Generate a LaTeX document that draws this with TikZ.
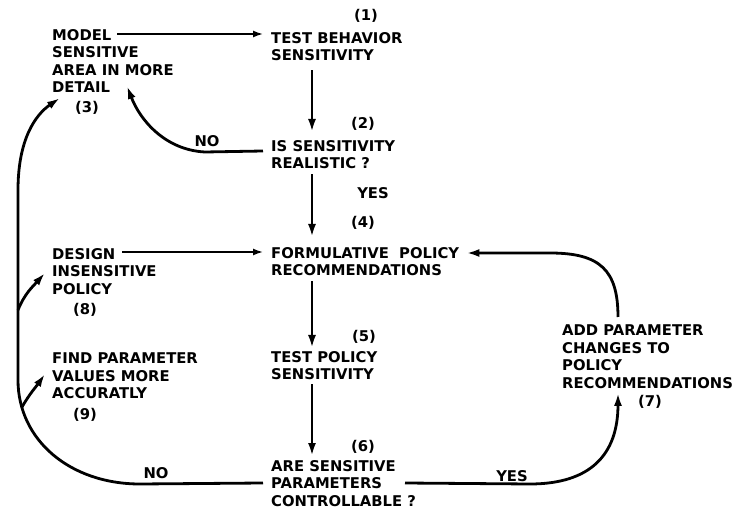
\documentclass[tikz,border=0pt]{standalone}
\usepackage{fontspec}
\setmainfont{DejaVu Sans}
\usetikzlibrary{arrows.meta,calc}

\begin{document}
\begin{tikzpicture}[x=1pt, y=1pt,
    txt/.style={anchor=north west, inner sep=0pt, align=left, font=\bfseries\fontsize{14.8}{17.5}\selectfont},
    num/.style={inner sep=0pt, font=\bfseries\fontsize{14.8}{17.5}\selectfont},
    flow/.style={line width=2.8pt, -{Latex[length=13pt,width=8pt]}},
    feed/.style={line width=1.6pt, -{Latex[length=10pt,width=7pt]}}
]
    \useasboundingbox (0,0) rectangle (745,-513);
    % steps
    \node[txt] (n1) at (271, -32) {TEST BEHAVIOR\\SENSITIVITY};
    \node[txt] (n2) at (271,-140) {IS SENSITIVITY\\REALISTIC ?};
    \node[txt] (n4) at (271,-247) {FORMULATIVE\ \ POLICY\\RECOMMENDATIONS};
    \node[txt] (n5) at (271,-351) {TEST POLICY\\SENSITIVITY};
    \node[txt] (n6) at (271,-460) {ARE SENSITIVE\\PARAMETERS\\CONTROLLABLE ?};
    \node[txt] (n3) at ( 52, -29) {MODEL\\SENSITIVE\\AREA IN MORE\\DETAIL};
    \node[txt] (n8) at ( 52,-248) {DESIGN\\INSENSITIVE\\POLICY};
    \node[txt] (n9) at ( 52,-353) {FIND PARAMETER\\VALUES MORE\\ACCURATLY};
    \node[txt] (n7) at (562,-325) {ADD PARAMETER\\CHANGES TO\\POLICY\\RECOMMENDATIONS};
    % step numbers
    \node[num] (k1) at (366, -16) {(1)};
    \node[num] (k2) at (363,-124) {(2)};
    \node[num] (k3) at ( 87,-108) {(3)};
    \node[num] (k4) at (363,-223) {(4)};
    \node[num] (k5) at (364,-337) {(5)};
    \node[num] (k6) at (363,-447) {(6)};
    \node[num] (k7) at (650,-402) {(7)};
    \node[num] (k8) at ( 85,-310) {(8)};
    \node[num] (k9) at ( 85,-415) {(9)};
    % answers
    \node[num] (yes2) at (373,-193) {YES};
    \node[num] (no2)  at (207,-141) {NO};
    \node[num] (no6)  at (156,-473) {NO};
    \node[num] (yes6) at (512,-476) {YES};
    % connector ends
    \coordinate (ax) at (312,0);
    \coordinate (m3) at (117,-34);
    \coordinate (m8) at (122,-252);
    \coordinate (m2) at ($(n2.north west)+(-8,-11)$);
    \coordinate (t3) at ($(n3.north west)+(75,-57)$);
    \coordinate (l3) at ($(n3.north west)+(8,-69)$);
    \coordinate (m6l) at ($(n6.north west)+(-8,-23)$);
    \coordinate (m6r) at ($(n6.north west)+(134,-23)$);
    \coordinate (b8) at (18,-310);
    \coordinate (b9) at (22,-407);
    \coordinate (t8) at ($(n8.north west)+(-7,-25)$);
    \coordinate (t9) at ($(n9.north west)+(-7,-21)$);
    \coordinate (s7) at ($(n7.north west)+(56,8)$);
    \coordinate (t7) at ($(n7.south west)+(56,-4)$);
    % main line
    \draw[flow] (ax |- n1.south) ++(0,-9) -- ([yshift=8]ax |- n2.north);
    \draw[flow] (ax |- n2.south) ++(0,-5) -- ([yshift=10]ax |- n4.north);
    \draw[flow] (ax |- n4.south) ++(0,-5) -- ([yshift=3]ax |- n5.north);
    \draw[flow] (ax |- n5.south) ++(0,-4) -- ([yshift=4]ax |- n6.north);
    \draw[feed] (m3) -- ([xshift=-8]m3 -| n1.west);
    \draw[feed] (m8) -- ([xshift=-8]m8 -| n4.west);
    % loops
    \draw[flow] (m2) -- (205,-152) .. controls (165,-150) and (140,-120) .. (t3);
    \draw[flow] (m6l) -- (140,-484) .. controls (70,-484) and (18,-440) .. (18,-380)
        -- (18,-190) .. controls (18,-140) and (35,-115) .. (l3);
    \draw[flow] (b8) to[out=68, in=228] (t8);
    \draw[flow] (b9) to[out=60, in=235] (t9);
    \draw[flow] (m6r) -- (530,-484) .. controls (590,-484) and (618,-455) .. (t7);
    \draw[flow] (s7) .. controls (618,-270) and (600,-253) .. (550,-253) -- ([xshift=7]n4.north east |- 0,-253);
\end{tikzpicture}
\end{document}
